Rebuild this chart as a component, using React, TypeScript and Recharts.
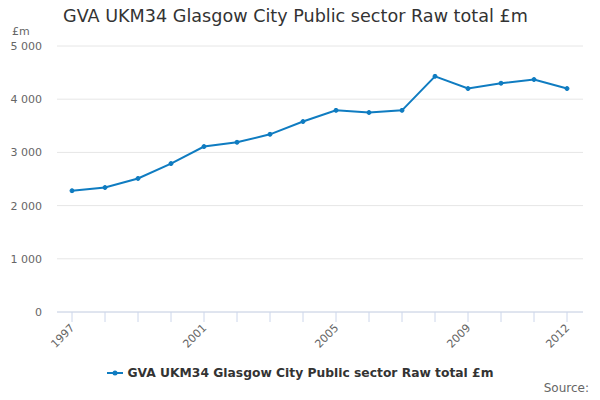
import React from "react";
import { CartesianGrid, Legend, Line, LineChart, XAxis, YAxis } from "recharts";

const YEARS = ["1997", "1998", "1999", "2000", "2001", "2002", "2003", "2004", "2005", "2006", "2007", "2008", "2009", "2010", "2011", "2012"];
const VALUES = [2280, 2340, 2510, 2790, 3110, 3190, 3340, 3580, 3790, 3750, 3790, 4430, 4200, 4300, 4370, 4200];
const Y_TICKS = [0, 1000, 2000, 3000, 4000, 5000];
const SHOWN_YEARS = ["1997", "2001", "2005", "2009", "2012"];
const SERIES_NAME = "GVA UKM34 Glasgow City Public sector Raw total £m";

const data = YEARS.map((year, i) => ({ year, value: VALUES[i] }));

const LINE_COLOR = "#0f7cc1";
const FONT = "'DejaVu Sans', sans-serif";

const fmt = (v: number) => (v >= 1000 ? `${Math.floor(v / 1000)} ${String(v % 1000).padStart(3, "0")}` : String(v));

function YearTick({ x, y, payload }: any) {
  if (!SHOWN_YEARS.includes(payload.value)) return <g />;
  return (
    <text
      x={x}
      y={y}
      transform={`rotate(-45 ${x} ${y})`}
      textAnchor="end"
      dominantBaseline="central"
      fontSize={11}
      fill="#666"
      fontFamily={FONT}
      dx={-1}
      dy={2}
    >
      {payload.value}
    </text>
  );
}

function LegendContent() {
  return (
    <div style={{ display: "flex", justifyContent: "center", alignItems: "center", fontFamily: FONT }}>
      <svg width={16} height={10} style={{ marginRight: 5 }}>
        <line x1={0} y1={5} x2={16} y2={5} stroke={LINE_COLOR} strokeWidth={2} />
        <circle cx={8} cy={5} r={2.5} fill={LINE_COLOR} />
      </svg>
      <span style={{ fontSize: 12.3, fontWeight: "bold", color: "#333" }}>{SERIES_NAME}</span>
    </div>
  );
}

export default function App() {
  return (
    <div style={{ position: "absolute", left: 0, top: 0, width: 600, height: 400, background: "#fff", fontFamily: FONT }}>
      <div style={{ position: "absolute", left: 63, top: 6, fontSize: 17.6, color: "#333", whiteSpace: "nowrap" }}>
        {SERIES_NAME}
      </div>
      <div style={{ position: "absolute", left: 12, top: 25, fontSize: 11, color: "#666" }}>£m</div>
      <div style={{ position: "absolute", right: 11, top: 381, fontSize: 12, color: "#666" }}>Source:</div>
      <LineChart width={600} height={400} data={data} margin={{ top: 46, right: 17, bottom: 0, left: 0 }}>
        <CartesianGrid vertical={false} stroke="#e6e6e6" />
        <XAxis
          dataKey="year"
          interval={0}
          height={88}
          padding={{ left: 15, right: 16 }}
          tick={<YearTick />}
          tickSize={10}
          axisLine={{ stroke: "#ccd6eb" }}
          tickLine={{ stroke: "#ccd6eb" }}
        />
        <YAxis
          width={57}
          domain={[0, 5000]}
          ticks={Y_TICKS}
          tickFormatter={fmt}
          axisLine={false}
          tickLine={false}
          tickMargin={9}
          tick={{ fontSize: 11, fill: "#666", fontFamily: FONT }}
        />
        <Legend
          verticalAlign="middle"
          align="center"
          layout="horizontal"
          content={<LegendContent />}
          wrapperStyle={{ top: 366, left: 0, width: 600 }}
        />
        <Line
          type="linear"
          dataKey="value"
          name={SERIES_NAME}
          stroke={LINE_COLOR}
          strokeWidth={2}
          dot={{ r: 2, fill: LINE_COLOR, stroke: LINE_COLOR, strokeWidth: 1 }}
          isAnimationActive={false}
        />
      </LineChart>
    </div>
  );
}
